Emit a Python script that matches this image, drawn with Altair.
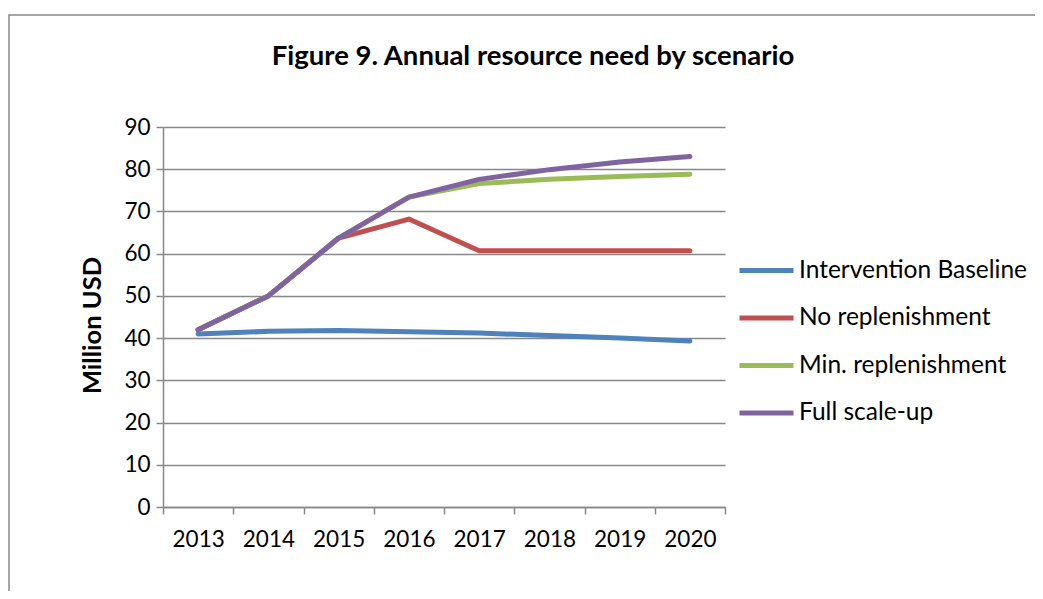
import altair as alt
import pandas as pd

years = ["2013", "2014", "2015", "2016", "2017", "2018", "2019", "2020"]
series_names = ["Intervention Baseline", "No replenishment", "Min. replenishment", "Full scale-up"]
baseline = [41.0, 41.6, 41.8, 41.5, 41.2, 40.6, 40.0, 39.3]
no_rep = [42.0, 50.0, 63.7, 68.2, 60.7, 60.7, 60.7, 60.7]
min_rep = [42.0, 50.0, 63.7, 73.4, 76.6, 77.6, 78.3, 78.8]
full = [42.0, 50.0, 63.7, 73.4, 77.6, 79.9, 81.7, 83.0]
colors = ["#4F81BD", "#C0504D", "#9BBB59", "#8064A2"]

rows = []
for name, vals in zip(series_names, [baseline, no_rep, min_rep, full]):
    for y, v in zip(years, vals):
        rows.append({"Year": y, "Value": v, "Scenario": name})
df = pd.DataFrame(rows)

FONT = "Lato"
GRAY = "#888888"

border = alt.Chart(pd.DataFrame({"a": [0]})).mark_rect(
    fill=None, stroke=GRAY, strokeWidth=1.5, clip=False
).encode(
    x=alt.value(-154), x2=alt.value(1000), y=alt.value(-112), y2=alt.value(700)
)

lines = alt.Chart(df).mark_line(strokeWidth=5, strokeCap="round", strokeJoin="round").encode(
    x=alt.X("Year:O", sort=years, bandPosition=0.5,
            scale=alt.Scale(type="band", paddingInner=0, paddingOuter=0),
            axis=alt.Axis(title=None, labelAngle=0, tickBand="extent", grid=False,
                          domainColor=GRAY, domainWidth=1.5, tickColor=GRAY, tickWidth=1.5,
                          tickSize=7, labelFontSize=22.5, labelFont=FONT, labelColor="black",
                          labelPadding=14)),
    y=alt.Y("Value:Q", scale=alt.Scale(domain=[0, 90], nice=False),
            axis=alt.Axis(title="Million USD", values=list(range(0, 91, 10)), grid=True,
                          gridColor=GRAY, gridWidth=1.5, domainColor=GRAY, domainWidth=1.5,
                          tickColor=GRAY, tickWidth=1.5, tickSize=7,
                          labelFontSize=22.5, labelFont=FONT, labelColor="black", labelPadding=6,
                          titleFontSize=25.5, titleFont=FONT, titleFontWeight="bold",
                          titleColor="black", titlePadding=18, titleY=198)),
    color=alt.Color("Scenario:N", sort=series_names,
                    scale=alt.Scale(domain=series_names, range=colors),
                    legend=alt.Legend(title=None, orient="none", legendX=574, legendY=114,
                                      symbolType="stroke", symbolSize=2916, symbolStrokeWidth=5,
                                      labelFontSize=24.5, labelFont=FONT, labelColor="black",
                                      labelOffset=3, rowPadding=6.5, labelLimit=400)),
)

chart = alt.layer(border, lines).properties(
    width=562, height=380,
    padding={"left": 155, "top": 119, "right": 310, "bottom": 84},
    autosize=alt.AutoSizeParams(type="none"),
    title=alt.TitleParams("Figure 9. Annual resource need by scenario", font=FONT,
                          fontSize=27.5, fontWeight="bold", color="black", anchor="middle",
                          dx=89, dy=86, offset=30),
).configure_view(stroke=None)

chart.save("out.html", embed_options={"renderer": "svg", "actions": False})
